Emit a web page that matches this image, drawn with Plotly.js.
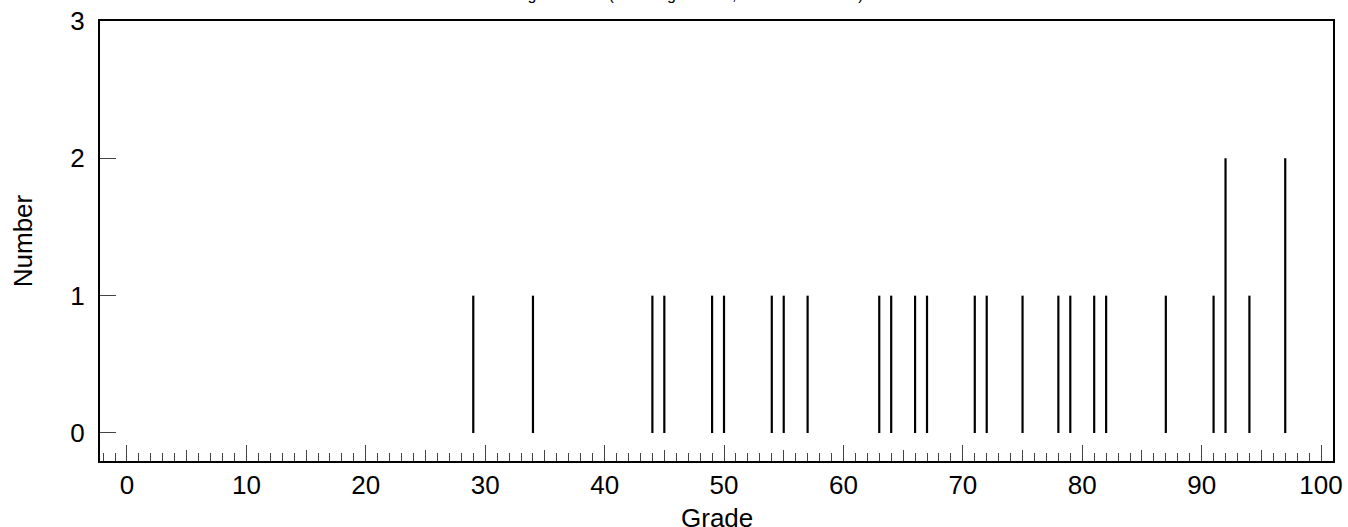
<!DOCTYPE html>
<html>
<head>
<meta charset="utf-8">
<script src="https://cdn.plot.ly/plotly-3.0.1.min.js"></script>
<style>html,body{margin:0;padding:0;background:#fff;}#chart{width:1348px;height:527px;}</style>
</head>
<body>
<div id="chart"></div>
<script>
// Data
const grades = [29, 34, 44, 45, 49, 50, 54, 55, 57, 63, 64, 66, 67, 71, 72, 75, 78, 79, 81, 82, 87, 91, 92, 94, 97];
const counts = [1, 1, 1, 1, 1, 1, 1, 1, 1, 1, 1, 1, 1, 1, 1, 1, 1, 1, 1, 1, 1, 1, 2, 1, 2];
const xTickVals = [0, 10, 20, 30, 40, 50, 60, 70, 80, 90, 100];
const yTickVals = [0, 1, 2, 3];
const titleText = "Raw grade data (rounding to units, 27 students total)";
const xTitle = "Grade";
const yTitle = "Number";

// Build stick segments from the data
const lx = [], ly = [];
grades.forEach((g, i) => { lx.push(g, g, null); ly.push(0, counts[i], null); });

const font = {family: "Liberation Sans, Arial, sans-serif", color: "#000"};
const F = (s) => Object.assign({size: s}, font);

const traces = [
  {x: lx, y: ly, type: "scatter", mode: "lines", line: {color: "#000", width: 2.2}, hoverinfo: "skip", showlegend: false},
  {x: [50], y: [0], xaxis: "x2", type: "scatter", mode: "markers", marker: {opacity: 0}, hoverinfo: "skip", showlegend: false}
];

const layout = {
  width: 1348, height: 527,
  margin: {l: 100, r: 15, t: 21, b: 66},
  paper_bgcolor: "#fff", plot_bgcolor: "#fff",
  showlegend: false,
  annotations: [
    {text: titleText, font: F(16), xref: "paper", yref: "paper", x: 0.468, y: 1,
     xanchor: "center", yanchor: "bottom", yshift: 17, showarrow: false, borderpad: 0},
    {text: xTitle, font: F(26), xref: "paper", yref: "paper", x: 0.5, y: 0,
     xanchor: "center", yanchor: "top", yshift: -41, showarrow: false, borderpad: 0}
  ],
  xaxis: {
    range: [-2.26, 101.0], tickmode: "array", tickvals: xTickVals,
    ticks: "inside", ticklen: 16, tickwidth: 1, tickcolor: "#444",
    minor: {dtick: 1, tick0: 0, ticks: "inside", ticklen: 8, tickwidth: 1, tickcolor: "#444", showgrid: false},
    showgrid: false, zeroline: false,
    showline: true, linecolor: "#000", linewidth: 2, mirror: true,
    tickfont: F(26)
  },
  xaxis2: {
    overlaying: "x", anchor: "y", side: "bottom", matches: "x",
    range: [-2.26, 101.0], tick0: 5, dtick: 10, ticks: "inside", ticklen: 11, tickwidth: 1, tickcolor: "#444",
    showticklabels: false, showgrid: false, zeroline: false, showline: false
  },
  yaxis: {
    range: [-0.204, 3], tickmode: "array", tickvals: yTickVals,
    ticks: "inside", ticklen: 16, tickwidth: 1, tickcolor: "#444",
    showgrid: false, zeroline: false,
    showline: true, linecolor: "#000", linewidth: 2, mirror: true,
    tickfont: F(26), ticklabelstandoff: 8,
    title: {text: yTitle, font: F(26), standoff: 30}
  }
};

Plotly.newPlot("chart", traces, layout, {staticPlot: true, displayModeBar: false});
</script>
</body>
</html>
